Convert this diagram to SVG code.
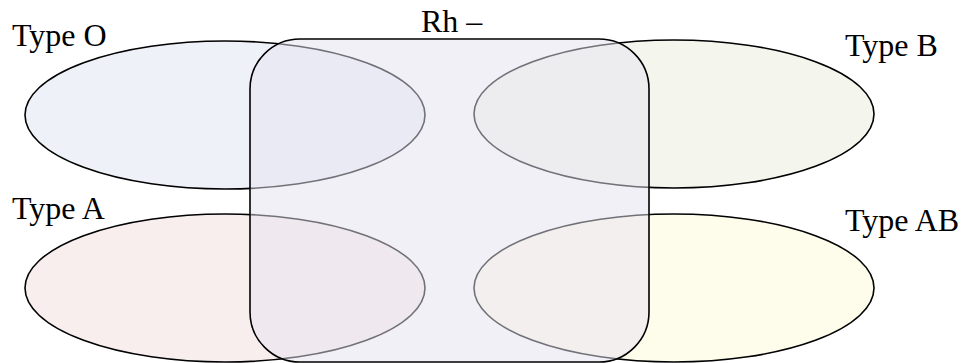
<svg xmlns="http://www.w3.org/2000/svg" width="964" height="363" viewBox="0 0 964 363">
<style>
.ell{stroke:#000;stroke-width:1.6}
.lbl{font-family:"Liberation Serif","Times New Roman",serif;font-size:32px;fill:#000}
.rh{fill:#E5E1F0;fill-opacity:0.5;stroke:#000;stroke-width:1.6}
</style>
<rect width="964" height="363" fill="#fff"/>
<g id="typeO"><ellipse class="ell" cx="225" cy="115" rx="200" ry="74" fill="#EEF2F8"/><text class="lbl" x="12" y="46">Type O</text></g>
<g id="typeB"><ellipse class="ell" cx="674" cy="114" rx="200" ry="74" fill="#F4F6EE"/><text class="lbl" x="845" y="56">Type B</text></g>
<g id="typeA"><ellipse class="ell" cx="225" cy="288" rx="200" ry="74" fill="#F8EEEE"/><text class="lbl" x="12" y="219">Type A</text></g>
<g id="typeAB"><ellipse class="ell" cx="674" cy="288" rx="200" ry="74" fill="#FEFDEC"/><text class="lbl" x="845" y="231">Type AB</text></g>
<g id="rhneg"><rect class="rh" x="250" y="39" width="399" height="323" rx="50" ry="50"/><text class="lbl" x="421" y="32">Rh –</text></g>
</svg>
